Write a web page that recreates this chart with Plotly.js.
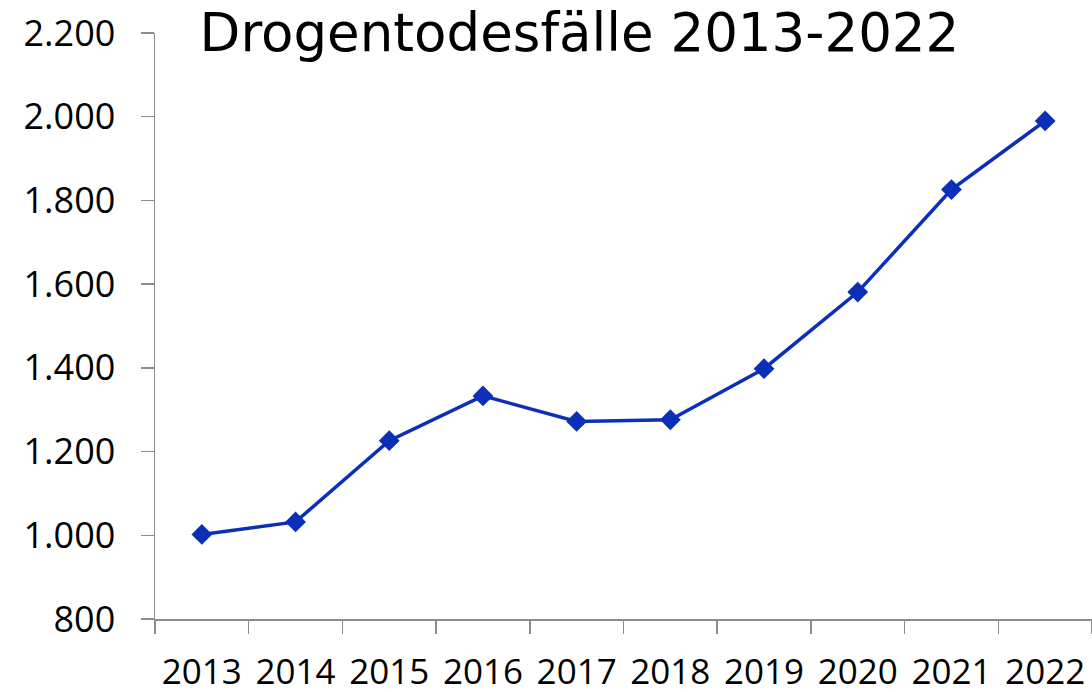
<!DOCTYPE html>
<html><head><meta charset="utf-8">
<script src="https://cdn.plot.ly/plotly-3.0.1.min.js"></script>
<style>html,body{margin:0;padding:0;background:#fff}#chart{width:1092px;height:692px}</style>
</head><body><div id="chart"></div>
<script>
const years = ["2013","2014","2015","2016","2017","2018","2019","2020","2021","2022"];
const deaths = [1002, 1032, 1226, 1333, 1272, 1276, 1398, 1581, 1826, 1990];
const yTickVals = [800,1000,1200,1400,1600,1800,2000,2200];
const yTickText = ["800","1.000","1.200","1.400","1.600","1.800","2.000","2.200"];
const chartTitle = "Drogentodesfälle 2013-2022";

const trace = {
  x: years, y: deaths, type: "scatter", mode: "lines+markers",
  line: {color: "#0b2fb8", width: 3.5},
  marker: {symbol: "diamond", size: 16, color: "#0b2fb8"},
  hoverinfo: "x+y"
};
const font = "'Open Sans', sans-serif";
const layout = {
  width: 1092, height: 692,
  margin: {l: 155, r: 0, t: 33, b: 73},
  paper_bgcolor: "#fff", plot_bgcolor: "#fff",
  showlegend: false,
  title: {text: chartTitle, font: {family: "'DejaVu Sans', Verdana, sans-serif", size: 53, color: "#000"},
          x: 0.453, xanchor: "center", y: 0.953, yanchor: "middle", xref: "paper", yref: "container"},
  xaxis: {
    type: "category", range: [-0.5, 9.5], tickson: "boundaries",
    ticks: "outside", ticklen: 13, tickwidth: 1.5, tickcolor: "#8c8c8c",
    showline: true, linecolor: "#8c8c8c", linewidth: 1.5,
    showgrid: false, zeroline: false,
    tickfont: {family: font, size: 35, color: "#000"},
    ticklabelstandoff: 21
  },
  yaxis: {
    range: [800, 2200], tickvals: yTickVals, ticktext: yTickText,
    ticks: "outside", ticklen: 13, tickwidth: 1.5, tickcolor: "#8c8c8c",
    showline: true, linecolor: "#8c8c8c", linewidth: 1.5,
    showgrid: false, zeroline: false,
    tickfont: {family: font, size: 36, color: "#000"},
    ticklabelstandoff: 18
  }
};
Plotly.newPlot("chart", [trace], layout, {displayModeBar: false, staticPlot: true});
</script></body></html>
